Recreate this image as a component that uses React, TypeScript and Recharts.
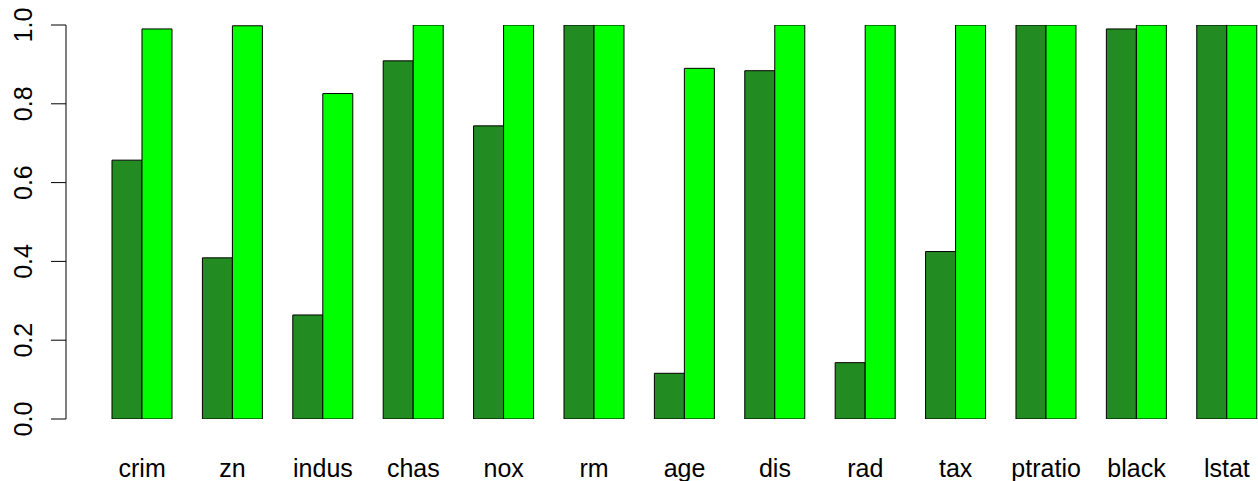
import { BarChart, Bar, XAxis, YAxis } from 'recharts';

const CATEGORIES = ['crim', 'zn', 'indus', 'chas', 'nox', 'rm', 'age', 'dis', 'rad', 'tax', 'ptratio', 'black', 'lstat'];
const SERIES_A = [0.657, 0.409, 0.264, 0.909, 0.744, 1.0, 0.116, 0.884, 0.143, 0.425, 1.0, 0.99, 1.0];
const SERIES_B = [0.99, 0.998, 0.826, 1.0, 1.0, 1.0, 0.89, 1.0, 1.0, 1.0, 1.0, 1.0, 1.0];
const Y_TICKS = [0, 0.2, 0.4, 0.6, 0.8, 1.0];

const FONT = '"Liberation Sans", Arial, sans-serif';

const data = CATEGORIES.map((name, i) => ({ name, a: SERIES_A[i], b: SERIES_B[i] }));

function XTick(props: any) {
  const { x, y, payload } = props;
  return (
    <text x={x} y={y + 58} textAnchor="middle" fontFamily={FONT} fontSize={25} fill="#000">
      {payload.value}
    </text>
  );
}

function YTick(props: any) {
  const { y, payload } = props;
  const bx = 32;
  return (
    <text
      x={bx}
      y={y}
      transform={`rotate(-90, ${bx}, ${y})`}
      textAnchor="middle"
      fontFamily={FONT}
      fontSize={25}
      fill="#000"
    >
      {Number(payload.value).toFixed(1)}
    </text>
  );
}

export default function App() {
  return (
    <div style={{ position: 'absolute', left: 0, top: 0, width: 1258, height: 481, overflow: 'hidden', background: '#fff' }}>
      <BarChart
        width={1300}
        height={481}
        data={data}
        margin={{ top: 25, right: 27.9, bottom: 0, left: 0 }}
        barCategoryGap="16.667%"
        barGap={0}
      >
        <XAxis
          dataKey="name"
          height={62}
          axisLine={false}
          tickLine={false}
          tickSize={0}
          tickMargin={0}
          padding={{ left: 30.93, right: 0 }}
          interval={0}
          tick={<XTick />}
        />
        <YAxis
          width={66}
          domain={[0, 1]}
          ticks={Y_TICKS}
          axisLine={{ stroke: '#000', strokeWidth: 1 }}
          tickLine={{ stroke: '#000', strokeWidth: 1 }}
          tickSize={15}
          tick={<YTick />}
          allowDataOverflow
        />
        <Bar dataKey="a" fill="#228B22" stroke="#000" strokeWidth={1} isAnimationActive={false} />
        <Bar dataKey="b" fill="#00FF00" stroke="#000" strokeWidth={1} isAnimationActive={false} />
      </BarChart>
    </div>
  );
}
